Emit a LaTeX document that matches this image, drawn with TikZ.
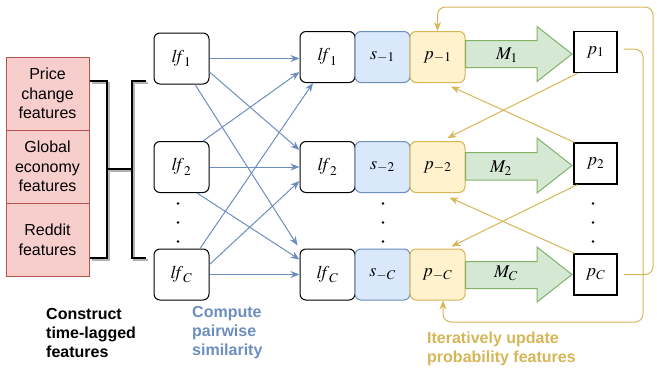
\documentclass[tikz,border=0pt]{standalone}
\usepackage{mathptmx}
\usepackage[no-math]{fontspec}
\setmainfont{Liberation Sans}
\usetikzlibrary{arrows.meta,calc}
\definecolor{pinkF}{HTML}{F8CECC}
\definecolor{pinkD}{HTML}{B85450}
\definecolor{blueF}{HTML}{DAE8FC}
\definecolor{blueD}{HTML}{6C8EBF}
\definecolor{yelF}{HTML}{FFF2CC}
\definecolor{yelD}{HTML}{D6B656}
\definecolor{grnF}{HTML}{D5E8D4}
\definecolor{grnD}{HTML}{82B366}
\definecolor{shadowgray}{HTML}{B3B3B3}
\tikzset{
  lfbox/.style={draw=black, line width=1pt, rounded corners=6pt, minimum width=55pt, minimum height=51pt, inner sep=0pt, font=\fontsize{18}{20}\selectfont},
  sbox/.style={lfbox, draw=blueD, fill=blueF},
  pbox/.style={lfbox, draw=yelD, fill=yelF},
  sqbox/.style={draw=black, line width=1.3pt, minimum width=43pt, minimum height=41pt, inner sep=0pt, font=\fontsize{18}{20}\selectfont},
  pinkbox/.style={draw=pinkD, fill=pinkF, line width=1pt, minimum width=83pt, minimum height=73pt, align=center, inner sep=0pt, font=\fontsize{16}{19.5}\selectfont},
  blueedge/.style={draw=blueD, line width=1pt, -{Stealth[length=9pt,width=7pt]}},
  yeledge/.style={draw=yelD, line width=1pt, -{Stealth[length=9pt,width=7pt]}},
  garrow/.style={draw=grnD, fill=grnF, line width=1pt, line join=miter},
  bracket/.style={line width=2.3pt},
  bshadow/.style={line width=2.3pt, draw=shadowgray},
  caption/.style={anchor=west, align=left, inner sep=0pt, font=\bfseries\fontsize{16}{19}\selectfont},
  mlabel/.style={inner sep=0pt, font=\fontsize{18}{20}\selectfont},
  dot/.style={fill=black},
}
\newcommand{\lfx}{\mathit{lf}}
\begin{document}
\begin{tikzpicture}[x=1pt,y=-1pt]
\useasboundingbox (0,0) rectangle (657,373);

% feature stack
\node[pinkbox] (P1) at (47.5,93.5) {Price\\change\\features};
\node[pinkbox] (P2) at (47.5,166.5) {Global\\economy\\features};
\node[pinkbox] (P3) at (47.5,240) {Reddit\\features};

% brackets (shadow then black)
\begin{scope}[shift={(2,2)}]
  \draw[bshadow] (90,81) -- (107,81) -- (107,258) -- (90,258);
  \draw[bshadow] (107,169) -- (132,169);
  \draw[bshadow] (146,81) -- (132,81) -- (132,258) -- (146,258);
\end{scope}
\draw[bracket] (90,81) -- (107,81) -- (107,258) -- (90,258);
\draw[bracket] (107,169) -- (132,169);
\draw[bracket] (146,81) -- (132,81) -- (132,258) -- (146,258);

% left lf column
\node[lfbox] (L1) at (181.5,58.5) {$\lfx_1$};
\node[lfbox] (L2) at (181.5,167) {$\lfx_2$};
\node[lfbox] (LC) at (181.5,274.5) {$\lfx_C$};

% middle rows
\node[lfbox] (M1) at (327.5,57) {$\lfx_1$};
\node[sbox]  (S1) at (382.5,57) {$s_{-1}$};
\node[pbox]  (Pm1) at (437.5,57) {$p_{-1}$};
\node[lfbox] (M2) at (327.5,167) {$\lfx_2$};
\node[sbox]  (S2) at (382.5,167) {$s_{-2}$};
\node[pbox]  (Pm2) at (437.5,167) {$p_{-2}$};
\node[lfbox] (MC) at (327.5,274.5) {$\lfx_C$};
\node[sbox]  (SC) at (382.5,274.5) {$s_{-C}$};
\node[pbox]  (PmC) at (437.5,274.5) {$p_{-C}$};

% right squares
\node[sqbox] (Q1) at (595.5,52.2) {$p_1$};
\node[sqbox] (Q2) at (595.5,163.5) {$p_2$};
\node[sqbox] (QC) at (595.5,274.5) {$p_C$};

% green model arrows
\draw[garrow] (465.5,40.5) -- (537,40.5) -- (537,26.5) -- (572,54) -- (537,81.5) -- (537,67.5) -- (465.5,67.5) -- cycle;
\draw[garrow] (465.5,152.5) -- (537,152.5) -- (537,138) -- (572,165.5) -- (537,193) -- (537,180) -- (465.5,180) -- cycle;
\draw[garrow] (465.5,261.5) -- (537,261.5) -- (537,247) -- (572,274.5) -- (537,302) -- (537,288.5) -- (465.5,288.5) -- cycle;
\node[mlabel] (ML1) at (507,55) {$M_1$};
\node[mlabel] (ML2) at (501,168) {$M_2$};
\node[mlabel] (MLC) at (506,273) {$M_C$};

% vertical dots
\foreach \x in {178,383,593} {
  \foreach \y in {203.5,222.5,241.5} {
    \fill[dot] (\x,\y) circle (1.3pt);
  }
}

% blue similarity edges
\draw[blueedge] (L1.east) -- (L1.east -| M1.west);
\draw[blueedge] ([yshift=-13.5pt]L1.east) -- ([yshift=17pt]M2.west);
\draw[blueedge] ([xshift=13.5pt]L1.south) -- ([xshift=-2pt,yshift=3pt]MC.north west);
\draw[blueedge] ([xshift=21.5pt]L2.north) -- ([yshift=-15pt]M1.west);
\draw[blueedge] (L2.east) -- (M2.west);
\draw[blueedge] ([xshift=15.5pt]L2.south) -- ([yshift=15pt]MC.west);
\draw[blueedge] ([xshift=18.5pt]LC.north) -- ([xshift=-14.5pt]M1.south);
\draw[blueedge] ([yshift=10pt]LC.east) -- ([yshift=-14pt]M2.west);
\draw[blueedge] (LC.east) -- (MC.west);

% yellow cross edges
\draw[yeledge] ([xshift=4pt]Q1.south west) -- ([xshift=10pt,yshift=3pt]Pm2.north);
\draw[yeledge] ([xshift=1pt]Q2.north west) -- ([xshift=13.5pt,yshift=-3.5pt]Pm1.south);
\draw[yeledge] ([xshift=4pt]Q2.south west) -- ([xshift=14pt,yshift=2pt]PmC.north);
\draw[yeledge] ([xshift=1pt]QC.north west) -- ([xshift=12pt,yshift=-4.5pt]Pm2.south);

% feedback loops
\draw[yeledge, rounded corners=8pt] ([xshift=6pt,yshift=3pt]Q1.east) -| (643,322) -| ([xshift=5.5pt]PmC.south);
\draw[yeledge, rounded corners=8pt] ([xshift=6pt]QC.east) -| (653,7) -| (Pm1.north);

% captions
\node[caption] (T1) at (46,333) {Construct\\time-lagged\\features};
\node[caption, text=blueD] (T2) at (192,333) {Compute\\pairwise\\similarity};
\node[caption, text=yelD] (T3) at (427,349) {Iteratively update\\probability features};
\end{tikzpicture}
\end{document}
